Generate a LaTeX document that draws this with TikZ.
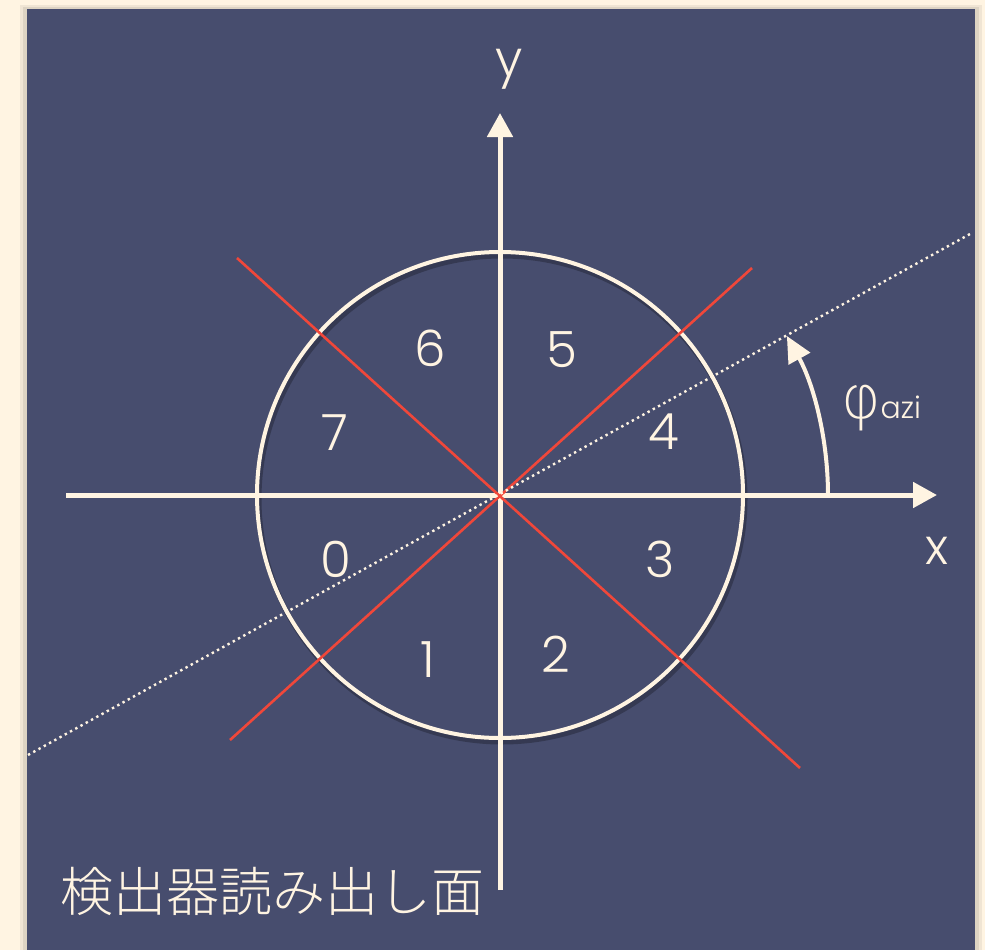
\documentclass[tikz,border=0pt]{standalone}
\usepackage{fontspec,tikz}
\setmainfont{Poppins}[UprightFont=* Light]
\newfontfamily\jpfont{Noto Sans CJK JP Light}
\newfontfamily\greekfont{DejaVu Sans}[UprightFont=* ExtraLight]
\usetikzlibrary{arrows.meta}
\definecolor{cream}{HTML}{FFF4E2}
\definecolor{panel}{HTML}{474D6E}
\definecolor{segred}{HTML}{F0473A}
\tikzset{
  axis/.style={draw=cream,line width=5pt,-{Triangle[length=24pt,width=25pt]}},
  ring/.style={draw=cream,line width=4pt},
  cut/.style={draw=segred,line width=2.6pt},
  dir/.style={draw=cream,line width=2.4pt,dash pattern=on 2.4pt off 3.6pt},
  num/.style={anchor=base,inner sep=0pt,text=cream,font=\fontsize{50}{60}\selectfont},
}
\begin{document}
\begin{tikzpicture}[x=1pt,y=-1pt]
\path[use as bounding box,fill=cream] (0,0) rectangle (985,950);
% panel and its soft shadow
\fill[black,opacity=0.06] (20,5) rectangle (982,950);
\fill[black,opacity=0.08] (23,7) rectangle (979,950);
\fill[panel] (27,9) rectangle (975,950);
\coordinate (O) at (500,495);
\coordinate (Osh) at (502,499);
\coordinate (xstart) at (66,495);
\coordinate (xend) at (937,495);
\coordinate (ystart) at (500,890);
\coordinate (yend) at (500,113);
\coordinate (cutA1) at (237,258);
\coordinate (cutA2) at (800,768);
\coordinate (cutB1) at (230,740);
\coordinate (cutB2) at (752,268);
\coordinate (dirA) at (28,755);
\coordinate (dirB) at (970,234);
% readout circle
\draw[black,opacity=0.25,line width=5pt] (Osh) circle[radius=243];
\draw[ring] (O) circle[radius=243];
% axes
\draw[axis] (xstart) -- (xend);
\draw[axis] (ystart) -- (yend);
\node[num] (xlab) at (937,564) {x};
\node[num] (ylab) at (509,77) {y};
% sector boundaries
\draw[cut] (cutA1) -- (cutA2);
\draw[cut] (cutB1) -- (cutB2);
% track direction
\draw[dir] (dirA) -- (dirB);
% azimuth angle
\draw[draw=cream,line width=4pt,-{Triangle[length=26pt,width=24pt]}] (O) ++(0:328) arc[start angle=0,end angle=-29,radius=328];
\node[anchor=base,inner sep=0pt,text=cream] (phi) at (881,418) {{\greekfont\fontsize{60}{66}\selectfont φ}{\fontsize{30}{36}\selectfont azi}};
% sector numbers
\node[num] (s0) at (336,577) {0};
\node[num] (s1) at (428,677) {1};
\node[num] (s2) at (556,672) {2};
\node[num] (s3) at (660,577) {3};
\node[num] (s4) at (664,449) {4};
\node[num] (s5) at (562,367) {5};
\node[num] (s6) at (430,366) {6};
\node[num] (s7) at (335,450) {7};
\node[anchor=base west,inner sep=0pt,text=cream,font=\jpfont\fontsize{53}{60}\selectfont] (title) at (60,911) {検出器読み出し面};
\end{tikzpicture}
\end{document}
